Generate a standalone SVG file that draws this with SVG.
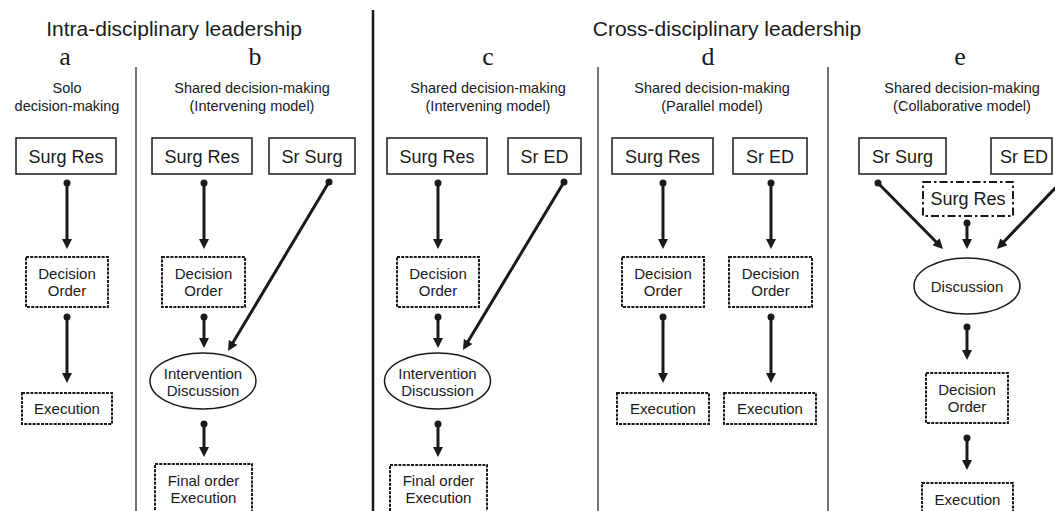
<svg xmlns="http://www.w3.org/2000/svg" width="1055" height="511" viewBox="0 0 1055 511">
<style>
text{font-family:"Liberation Sans",Arial,sans-serif;fill:#1a1a1a;text-anchor:middle}
.hd{font-size:21px}
.lt{font-family:"Liberation Serif","Times New Roman",serif;font-size:26px}
.sub{font-size:14.5px}
.bx{font-size:18px}
.nd{font-size:15px}
.solid{fill:#fff;stroke:#1a1a1a;stroke-width:1.5}
.dash{fill:#fff;stroke:#1a1a1a;stroke-width:2;stroke-dasharray:3 1.2}
.dd{fill:#fff;stroke:#1a1a1a;stroke-width:2;stroke-dasharray:8 3 2.5 3}
.ell{fill:#fff;stroke:#1a1a1a;stroke-width:1.5}
.div{stroke:#444;stroke-width:1.5}
.arr{stroke:#1a1a1a;stroke-width:3;fill:none;marker-start:url(#dot);marker-end:url(#ah)}
</style>
<defs>
<marker id="ah" markerUnits="userSpaceOnUse" markerWidth="10" markerHeight="10" refX="2" refY="5" viewBox="0 0 10 10" orient="auto"><path d="M0,0 L10,5 L0,10 z" fill="#1a1a1a"/></marker>
<marker id="dot" markerUnits="userSpaceOnUse" markerWidth="8" markerHeight="8" refX="4" refY="4" viewBox="0 0 8 8"><circle cx="4" cy="4" r="3.5" fill="#1a1a1a"/></marker>
</defs>
<rect width="1055" height="511" fill="#fff"/>
<g id="headers">
<text class="hd" x="174" y="36">Intra-disciplinary leadership</text>
<text class="hd" x="727" y="36">Cross-disciplinary leadership</text>
<text class="lt" x="65" y="65">a</text>
<text class="lt" x="255" y="65">b</text>
<text class="lt" x="488" y="65">c</text>
<text class="lt" x="708" y="65">d</text>
<text class="lt" x="960" y="65">e</text>
<text class="sub" x="67" y="93">Solo</text>
<text class="sub" x="67" y="111">decision-making</text>
<text class="sub" x="252" y="93">Shared decision-making</text>
<text class="sub" x="252" y="111">(Intervening model)</text>
<text class="sub" x="488" y="93">Shared decision-making</text>
<text class="sub" x="488" y="111">(Intervening model)</text>
<text class="sub" x="712" y="93">Shared decision-making</text>
<text class="sub" x="712" y="111">(Parallel model)</text>
<text class="sub" x="962" y="93">Shared decision-making</text>
<text class="sub" x="962" y="111">(Collaborative model)</text>
</g>
<g id="dividers">
<line x1="373" y1="10" x2="373" y2="511" stroke="#1a1a1a" stroke-width="2.5"/>
<line class="div" x1="136" y1="67" x2="136" y2="511"/>
<line class="div" x1="598" y1="67" x2="598" y2="511"/>
<line class="div" x1="828" y1="67" x2="828" y2="511"/>
</g>
<g id="connectors">
<line class="arr" x1="67" y1="183" x2="67" y2="241"/>
<line class="arr" x1="67" y1="317" x2="67" y2="375"/>
<line class="arr" x1="204" y1="183" x2="204" y2="241"/>
<line class="arr" x1="204" y1="317" x2="204" y2="340"/>
<line class="arr" x1="204" y1="424" x2="204" y2="449"/>
<line class="arr" x1="329" y1="182" x2="232.1" y2="344.1"/>
<line class="arr" x1="438" y1="183" x2="438" y2="241"/>
<line class="arr" x1="438" y1="317" x2="438" y2="340"/>
<line class="arr" x1="438" y1="424" x2="438" y2="449"/>
<line class="arr" x1="564" y1="182" x2="467.1" y2="343.1"/>
<line class="arr" x1="663" y1="183" x2="663" y2="241"/>
<line class="arr" x1="663" y1="317" x2="663" y2="375"/>
<line class="arr" x1="771" y1="183" x2="771" y2="241"/>
<line class="arr" x1="771" y1="317" x2="771" y2="375"/>
<line class="arr" x1="878" y1="183" x2="937.4" y2="243.3"/>
<line class="arr" x1="1060" y1="183" x2="1002.5" y2="243.2"/>
<line class="arr" x1="967" y1="223" x2="967" y2="241"/>
<line class="arr" x1="967" y1="327" x2="967" y2="352"/>
<line class="arr" x1="967" y1="438" x2="967" y2="462"/>
</g>
<g id="a-surgres"><rect class="solid" x="16" y="138" width="100" height="36"/><text class="bx" x="66" y="163">Surg Res</text></g>
<g id="a-decision"><rect class="dash" x="26" y="257" width="82" height="50"/><text class="nd" x="67" y="279">Decision</text><text class="nd" x="67" y="296">Order</text></g>
<g id="a-execution"><rect class="dash" x="22" y="393" width="90" height="31"/><text class="nd" x="67" y="414">Execution</text></g>
<g id="b-surgres"><rect class="solid" x="152" y="138" width="100" height="36"/><text class="bx" x="202" y="163">Surg Res</text></g>
<g id="b-srsurg"><rect class="solid" x="269" y="138" width="86" height="36"/><text class="bx" x="312" y="163">Sr Surg</text></g>
<g id="b-decision"><rect class="dash" x="162" y="257" width="83" height="50"/><text class="nd" x="203.5" y="279">Decision</text><text class="nd" x="203.5" y="296">Order</text></g>
<g id="b-intervention"><ellipse class="ell" cx="203" cy="381" rx="53" ry="28"/><text class="nd" x="203" y="379">Intervention</text><text class="nd" x="203" y="396">Discussion</text></g>
<g id="b-final"><rect class="dash" x="155" y="464" width="97" height="52"/><text class="nd" x="203.5" y="486">Final order</text><text class="nd" x="203.5" y="503">Execution</text></g>
<g id="c-surgres"><rect class="solid" x="387" y="138" width="100" height="36"/><text class="bx" x="437" y="163">Surg Res</text></g>
<g id="c-sred"><rect class="solid" x="508" y="138" width="73" height="36"/><text class="bx" x="544.5" y="163">Sr ED</text></g>
<g id="c-decision"><rect class="dash" x="397" y="257" width="82" height="50"/><text class="nd" x="438" y="279">Decision</text><text class="nd" x="438" y="296">Order</text></g>
<g id="c-intervention"><ellipse class="ell" cx="437.5" cy="381" rx="53" ry="28"/><text class="nd" x="437.5" y="379">Intervention</text><text class="nd" x="437.5" y="396">Discussion</text></g>
<g id="c-final"><rect class="dash" x="390" y="465" width="97" height="52"/><text class="nd" x="438.5" y="486">Final order</text><text class="nd" x="438.5" y="503">Execution</text></g>
<g id="d-surgres"><rect class="solid" x="612" y="138" width="101" height="36"/><text class="bx" x="662.5" y="163">Surg Res</text></g>
<g id="d-sred"><rect class="solid" x="733" y="138" width="74" height="36"/><text class="bx" x="770" y="163">Sr ED</text></g>
<g id="d-decision1"><rect class="dash" x="622" y="257" width="82" height="50"/><text class="nd" x="663" y="279">Decision</text><text class="nd" x="663" y="296">Order</text></g>
<g id="d-decision2"><rect class="dash" x="729" y="257" width="83" height="50"/><text class="nd" x="770.5" y="279">Decision</text><text class="nd" x="770.5" y="296">Order</text></g>
<g id="d-execution1"><rect class="dash" x="617" y="393" width="92" height="31"/><text class="nd" x="663" y="414">Execution</text></g>
<g id="d-execution2"><rect class="dash" x="724" y="393" width="92" height="31"/><text class="nd" x="770" y="414">Execution</text></g>
<g id="e-srsurg"><rect class="solid" x="859" y="138" width="87" height="36"/><text class="bx" x="902.5" y="163">Sr Surg</text></g>
<g id="e-sred"><rect class="solid" x="991" y="138" width="61" height="36"/><text class="bx" x="1024" y="163">Sr ED</text></g>
<g id="e-surgres"><rect class="dd" x="923" y="182" width="90" height="34"/><text class="bx" x="968" y="205">Surg Res</text></g>
<g id="e-discussion"><ellipse class="ell" cx="967" cy="286" rx="53" ry="28"/><text class="nd" x="967" y="292">Discussion</text></g>
<g id="e-decision"><rect class="dash" x="926" y="373" width="82" height="50"/><text class="nd" x="967" y="395">Decision</text><text class="nd" x="967" y="412">Order</text></g>
<g id="e-execution"><rect class="dash" x="922" y="483" width="91" height="35"/><text class="nd" x="967.5" y="505">Execution</text></g>
</svg>
